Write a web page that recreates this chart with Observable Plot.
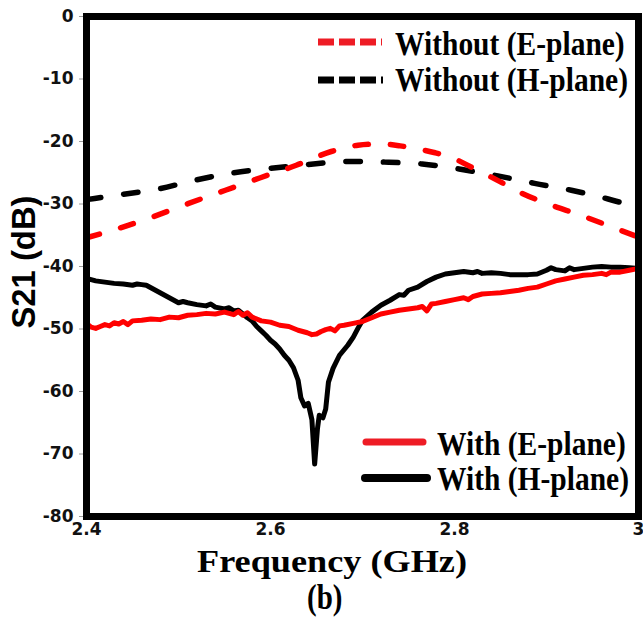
<!DOCTYPE html>
<html>
<head>
<meta charset="utf-8">
<script src="https://cdn.jsdelivr.net/npm/d3@7"></script>
<script src="https://cdn.jsdelivr.net/npm/@observablehq/plot@0.6"></script>
<style>
  html, body { margin: 0; padding: 0; background: #fff; }
  #chart { position: relative; width: 643px; height: 620px; overflow: hidden; }
  #chart svg.overlay { position: absolute; left: 0; top: 0; pointer-events: none; }
</style>
</head>
<body>
<div id="chart"></div>
<script>
// Axis ticks
const xTicks = [2.4, 2.6, 2.8, 3];
const yTicks = [0, -10, -20, -30, -40, -50, -60, -70, -80];

// Without absorber, E-plane (dashed red)
const freqWithoutE = [2.400, 2.435, 2.473, 2.511, 2.551, 2.589, 2.628, 2.666, 2.695, 2.720, 2.741, 2.760, 2.779, 2.799, 2.817, 2.836, 2.853, 2.872, 2.900, 2.937, 2.975, 3.000];
const s21WithoutE  = [-35.4, -33.9, -32.0, -29.9, -27.8, -25.8, -23.8, -21.6, -20.6, -20.4, -20.7, -21.2, -21.8, -22.7, -24.0, -25.4, -26.7, -28.2, -29.9, -31.8, -33.9, -35.3];

// Without absorber, H-plane (dashed black)
const freqWithoutH = [2.400, 2.437, 2.478, 2.518, 2.560, 2.600, 2.640, 2.684, 2.724, 2.765, 2.805, 2.847, 2.887, 2.927, 2.967, 3.000];
const s21WithoutH  = [-29.3, -28.5, -27.6, -26.2, -25.0, -24.3, -23.7, -23.2, -23.3, -23.6, -24.4, -25.5, -26.7, -27.8, -29.2, -30.6];

// With absorber, E-plane (solid red)
const freqWithE = [2.400, 2.405, 2.410, 2.415, 2.420, 2.425, 2.430, 2.435, 2.440, 2.445, 2.450, 2.460, 2.470, 2.480, 2.490, 2.500, 2.510, 2.520, 2.530, 2.540, 2.550, 2.560, 2.565, 2.570, 2.575, 2.580, 2.590, 2.600, 2.610, 2.620, 2.630, 2.640, 2.645, 2.650, 2.655, 2.660, 2.665, 2.670, 2.675, 2.680, 2.690, 2.700, 2.710, 2.720, 2.730, 2.740, 2.750, 2.760, 2.765, 2.770, 2.775, 2.780, 2.790, 2.800, 2.810, 2.815, 2.820, 2.830, 2.840, 2.850, 2.860, 2.870, 2.880, 2.890, 2.900, 2.910, 2.920, 2.930, 2.940, 2.950, 2.960, 2.965, 2.970, 2.980, 2.990, 3.000];
const s21WithE  = [-49.1, -49.7, -49.9, -49.6, -49.3, -49.5, -49.0, -49.2, -48.8, -49.3, -48.7, -48.6, -48.4, -48.5, -48.1, -48.2, -47.8, -47.7, -47.5, -47.6, -47.3, -47.7, -47.2, -47.8, -47.4, -48.1, -48.7, -48.9, -49.4, -49.6, -50.2, -50.6, -50.9, -50.8, -50.4, -50.1, -49.9, -50.3, -49.5, -49.4, -49.1, -48.8, -48.2, -47.6, -47.3, -47.0, -46.8, -46.6, -46.4, -47.1, -46.0, -45.9, -45.6, -45.3, -45.0, -45.3, -44.8, -44.4, -44.3, -44.2, -44.0, -43.8, -43.5, -43.3, -42.8, -42.3, -42.0, -41.7, -41.4, -41.3, -41.1, -41.3, -40.9, -40.9, -40.6, -40.3];

// With absorber, H-plane (solid black)
const freqWithH = [2.400, 2.410, 2.420, 2.430, 2.440, 2.450, 2.455, 2.460, 2.465, 2.470, 2.480, 2.490, 2.500, 2.505, 2.510, 2.520, 2.530, 2.535, 2.540, 2.550, 2.555, 2.560, 2.565, 2.570, 2.575, 2.580, 2.585, 2.590, 2.595, 2.600, 2.605, 2.610, 2.615, 2.620, 2.625, 2.630, 2.633, 2.637, 2.641, 2.645, 2.648, 2.651, 2.653, 2.657, 2.660, 2.663, 2.668, 2.675, 2.684, 2.690, 2.695, 2.700, 2.710, 2.720, 2.730, 2.740, 2.745, 2.750, 2.760, 2.770, 2.780, 2.790, 2.800, 2.810, 2.820, 2.825, 2.830, 2.840, 2.850, 2.860, 2.870, 2.880, 2.890, 2.900, 2.905, 2.910, 2.920, 2.925, 2.930, 2.940, 2.950, 2.960, 2.970, 2.980, 2.990, 3.000];
const s21WithH  = [-41.9, -42.3, -42.5, -42.7, -42.8, -43.0, -42.8, -42.9, -43.0, -43.4, -44.2, -45.0, -45.8, -45.6, -45.8, -46.1, -46.3, -46.0, -46.5, -46.8, -46.6, -47.1, -47.0, -47.6, -48.2, -48.7, -49.6, -50.3, -51.0, -51.8, -52.4, -53.2, -54.2, -55.0, -56.2, -58.2, -61.0, -62.3, -61.9, -64.5, -71.6, -66.0, -63.8, -64.2, -62.8, -58.5, -56.3, -54.2, -52.6, -51.3, -49.9, -48.6, -47.3, -46.2, -45.4, -44.5, -44.6, -43.8, -43.3, -42.4, -41.7, -41.2, -41.0, -40.8, -41.0, -40.8, -41.1, -41.0, -41.1, -41.3, -41.3, -41.3, -41.2, -40.6, -40.2, -40.5, -40.7, -40.2, -40.5, -40.3, -40.1, -40.0, -40.1, -40.1, -40.2, -40.3];

const toRows = (fs, vs) => fs.map((f, i) => ({f, v: vs[i]}));
const withoutE = toRows(freqWithoutE, s21WithoutE);
const withoutH = toRows(freqWithoutH, s21WithoutH);
const withE = toRows(freqWithE, s21WithE);
const withH = toRows(freqWithH, s21WithH);

const RED = "#ff0000";
const tickFont = {fontFamily: "DejaVu Sans", fontWeight: "bold", fontSize: 17};

const plot = Plot.plot({
  width: 643,
  height: 545,
  marginTop: 16,
  marginRight: 5,
  marginBottom: 29,
  marginLeft: 86,
  style: {background: "white", overflow: "visible"},
  x: {domain: [2.4, 3]},
  y: {domain: [-80, 0]},
  marks: [
    Plot.axisY({ticks: yTicks, tickFormat: d => String(d), tickSize: 7, tickPadding: 6,
      stroke: "#9a9a9a", fill: "#111", label: null, ...tickFont}),
    Plot.axisX({ticks: xTicks, tickFormat: d => String(d), tickSize: 0, tickPadding: 6,
      fill: "#111", label: null, ...tickFont}),
    Plot.line(withoutH, {x: "f", y: "v", stroke: "black", strokeWidth: 5.5, curve: "monotone-x",
      strokeDasharray: "14.5,23", strokeLinecap: "round"}),
    Plot.line(withoutE, {x: "f", y: "v", stroke: RED, strokeWidth: 5.5, curve: "monotone-x",
      strokeDasharray: "13.5,22", strokeLinecap: "round"}),
    Plot.line(withH, {x: "f", y: "v", stroke: "black", strokeWidth: 5, strokeLinejoin: "round"}),
    Plot.line(withE, {x: "f", y: "v", stroke: RED, strokeWidth: 5, strokeLinejoin: "round"}),
    Plot.frame({stroke: "black", strokeWidth: 7})
  ]
});

const chart = document.getElementById("chart");
chart.appendChild(plot);

// Axis titles, panel tag and legends (serif labels are drawn slightly tall)
const serif = "font-family:'Liberation Serif','Times New Roman',serif;font-weight:bold;";
const tall = (x, y, sy, size, label) =>
  `<text transform="translate(${x},${y}) scale(1,${sy})" style="${serif}font-size:${size}px;" fill="#000">${label}</text>`;

const overlay = `
<svg class="overlay" width="643" height="620" xmlns="http://www.w3.org/2000/svg">
  <text transform="translate(35,262) rotate(-90)" text-anchor="middle" textLength="133" lengthAdjust="spacingAndGlyphs"
        style="font-family:'Liberation Sans',Arial,sans-serif;font-weight:bold;font-size:33px;" fill="#000">S21 (dB)</text>
  <text x="197" y="572" textLength="270" lengthAdjust="spacingAndGlyphs" style="${serif}font-size:31px;" fill="#000">Frequency (GHz)</text>
  ${tall(307, 609, 1.24, 29, "(b)")}

  <line x1="318" x2="382" y1="42" y2="42" stroke="#ee1c25" stroke-width="7" stroke-dasharray="16,5"/>
  ${tall(395, 55, 1.12, 29.5, "Without (E-plane)")}
  <line x1="318" x2="383" y1="80" y2="80" stroke="#000" stroke-width="7" stroke-dasharray="16,5"/>
  ${tall(395, 91, 1.12, 29.5, "Without (H-plane)")}

  <line x1="366" x2="423" y1="442" y2="442" stroke="#ee1c25" stroke-width="7" stroke-linecap="round"/>
  ${tall(437, 455, 1.12, 29.5, "With (E-plane)")}
  <line x1="365" x2="427" y1="478" y2="478" stroke="#000" stroke-width="8" stroke-linecap="round"/>
  ${tall(437, 490, 1.12, 29.5, "With (H-plane)")}
</svg>`;
chart.insertAdjacentHTML("beforeend", overlay);
</script>
</body>
</html>
